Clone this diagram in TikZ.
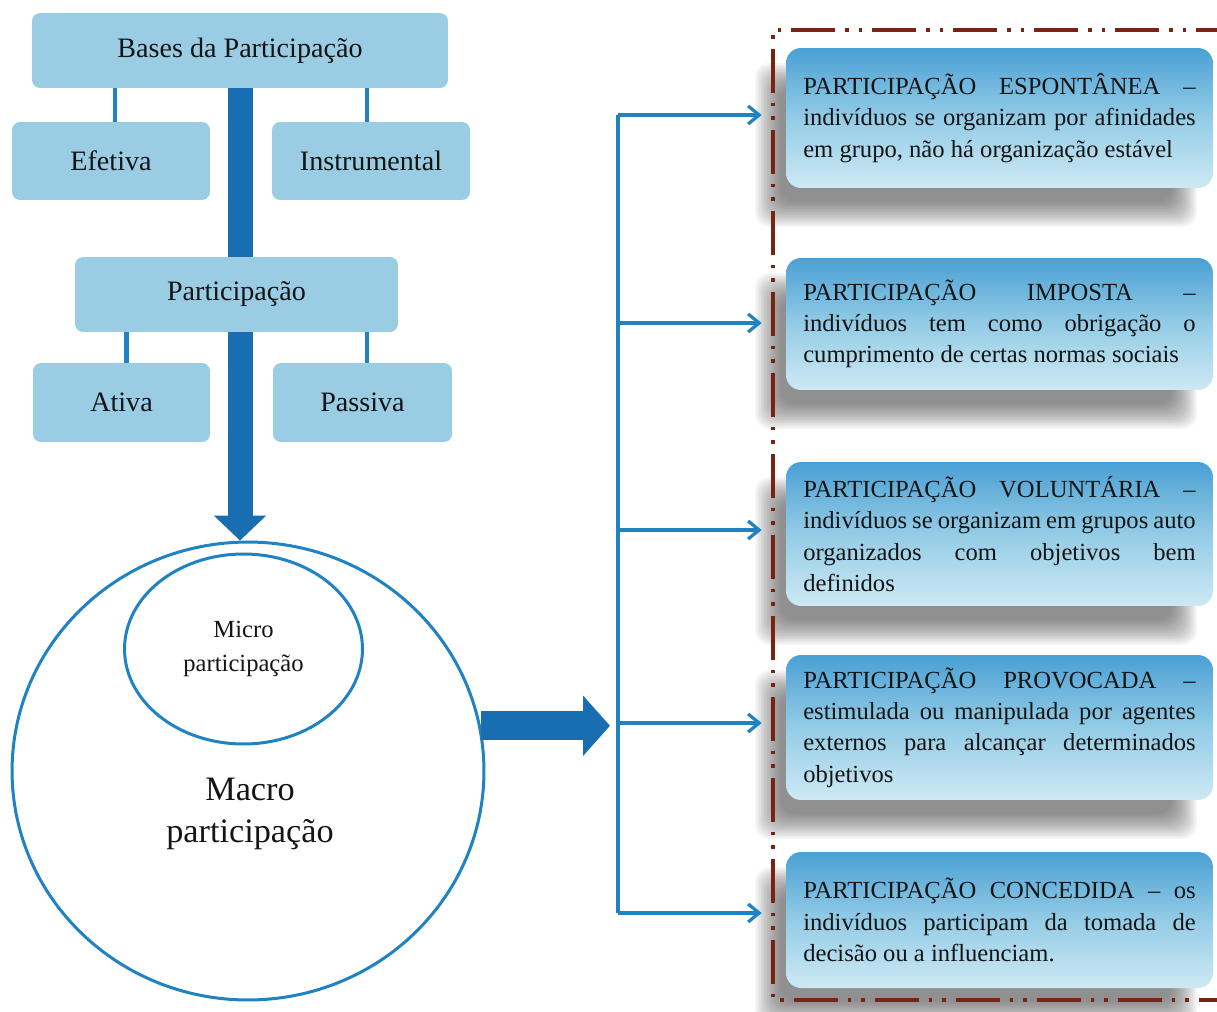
\documentclass[tikz,border=0pt]{standalone}
\usepackage{fontspec}
\setmainfont{Liberation Serif}
\usetikzlibrary{shapes.geometric,arrows.meta}
\pgfdeclarelayer{background}
\pgfsetlayers{background,main}
\definecolor{boxfill}{RGB}{154,205,227}
\definecolor{rtop}{RGB}{74,160,212}
\definecolor{rmid}{RGB}{148,204,230}
\definecolor{rbot}{RGB}{205,233,244}
\definecolor{linkblue}{RGB}{30,130,195}
\definecolor{arrowblue}{RGB}{24,110,176}
\definecolor{framec}{RGB}{120,36,18}
\definecolor{inkc}{RGB}{20,20,20}
\begin{document}
\begin{tikzpicture}[x=0.02cm,y=-0.02cm,
  lbox/.style={rectangle, rounded corners=0.16cm, fill=boxfill, inner sep=0pt, text=inkc, font=\fontsize{16}{19}\selectfont},
  rbox/.style={rectangle, rounded corners=0.3cm, top color=rtop, bottom color=rbot, middle color=rmid, inner xsep=0.345cm, inner ysep=0pt, text width=7.85cm, align=justify, text=inkc, font=\fontsize{14}{17.8}\selectfont},
  thinlink/.style={draw=linkblue, line width=0.09cm},
  trunk/.style={draw=linkblue, line width=0.065cm},
  branch/.style={draw=linkblue, line width=0.065cm, -{Straight Barb[length=0.22cm,width=0.36cm]}},
  ring/.style={ellipse, draw=linkblue, line width=0.06cm, inner sep=0pt},
  downarrow/.style={draw=arrowblue, line width=0.5cm, -{Triangle[length=0.5cm,width=1.02cm]}},
  rightarrow/.style={draw=arrowblue, line width=0.58cm, -{Triangle[length=0.54cm,width=1.18cm]}},
  frame/.style={draw=framec, line width=0.07cm, dash pattern=on 0.88cm off 0.2cm on 0.07cm off 0.2cm on 0.07cm off 0.2cm}
]
\useasboundingbox (0,0) rectangle (1217,1011);

% left hierarchy
\node[lbox, minimum width=8.32cm, minimum height=1.5cm] (bases) at (240,50.5) {Bases da Participação};
\node[lbox, minimum width=3.96cm, minimum height=1.56cm] (efetiva) at (111,161) {Efetiva};
\node[lbox, minimum width=3.96cm, minimum height=1.56cm] (instr) at (371,161) {Instrumental};
\node[lbox, minimum width=6.46cm, minimum height=1.5cm] (part) at (236.5,294.5) {Participação};
\node[lbox, minimum width=3.54cm, minimum height=1.58cm] (ativa) at (121.5,402.5) {Ativa};
\node[lbox, minimum width=3.58cm, minimum height=1.58cm] (passiva) at (362.5,402.5) {Passiva};

\draw[thinlink] ([xshift=0.08cm]efetiva.north) -- ([xshift=0.08cm]efetiva.north |- bases.south);
\draw[thinlink] ([xshift=-0.08cm]instr.north) -- ([xshift=-0.08cm]instr.north |- bases.south);
\draw[thinlink] ([xshift=0.1cm]ativa.north) -- ([xshift=0.1cm]ativa.north |- part.south);
\draw[thinlink] ([xshift=0.09cm]passiva.north) -- ([xshift=0.09cm]passiva.north |- part.south);

% circles
\node[ring, minimum width=9.44cm, minimum height=9.16cm] (macro) at (248,771) {};
\node[ring, minimum width=4.76cm, minimum height=3.8cm, align=center, text=inkc, font=\fontsize{14}{19}\selectfont] (micro) at (243.5,649) {Micro\\participação};
\node[align=center, text=inkc, font=\fontsize{19.5}{24}\selectfont] (macrotxt) at (250,814) {Macro\\participação};

\begin{pgfonlayer}{background}
\draw[downarrow] (bases.south) -- (bases.south |- macro.north);
\end{pgfonlayer}

% right boxes
\node[rbox, minimum height=2.8cm] (b1) at (999.5,118) {\noindent PARTICIPAÇÃO ESPONTÂNEA –\linebreak indivíduos se organizam por afinidades\linebreak em grupo, não há organização estável};
\node[rbox, minimum height=2.64cm] (b2) at (999.5,324) {\noindent PARTICIPAÇÃO IMPOSTA –\linebreak indivíduos tem como obrigação o\linebreak cumprimento de certas normas sociais};
\node[rbox, minimum height=2.88cm] (b3) at (999.5,534) {\noindent PARTICIPAÇÃO VOLUNTÁRIA –\linebreak indivíduos se organizam em grupos auto\linebreak organizados com objetivos bem\linebreak definidos};
\node[rbox, minimum height=2.9cm] (b4) at (999.5,727.5) {\noindent PARTICIPAÇÃO PROVOCADA –\linebreak estimulada ou manipulada por agentes\linebreak externos para alcançar determinados\linebreak objetivos};
\node[rbox, minimum height=2.72cm] (b5) at (999.5,920) {\noindent PARTICIPAÇÃO CONCEDIDA – os\linebreak indivíduos participam da tomada de\linebreak decisão ou a influenciam.};

% shadows
\begin{pgfonlayer}{background}
\foreach \t/\b in {48/188,258/390,462/606,655/800,852/988}{
  \foreach \d in {-9,-7.5,...,16.5}{
    \fill[black!85, opacity=0.04, rounded corners=0.28cm] (764+\d,\t+24+\d) rectangle (1188-\d,\b+30-\d);
  }
}
\end{pgfonlayer}

% frame
\draw[frame] (1240,30) -- (773,30) -- (773,1000) -- (1240,1000);

% trunk and branches
\coordinate (j1) at (618,115);
\coordinate (j2) at (618,323);
\coordinate (j3) at (618,530);
\coordinate (j4) at (618,723);
\coordinate (j5) at (618,913);
\draw[trunk] (j1) -- (j5);
\draw[branch, shorten >=0.48cm] (j1) -- (j1 -| b1.west);
\draw[branch, shorten >=0.48cm] (j2) -- (j2 -| b2.west);
\draw[branch, shorten >=0.48cm] (j3) -- (j3 -| b3.west);
\draw[branch, shorten >=0.48cm] (j4) -- (j4 -| b4.west);
\draw[branch, shorten >=0.48cm] (j5) -- (j5 -| b5.west);

\draw[rightarrow, shorten >=0.16cm] (macro.11) -- (macro.11 -| j4);
\end{tikzpicture}
\end{document}
